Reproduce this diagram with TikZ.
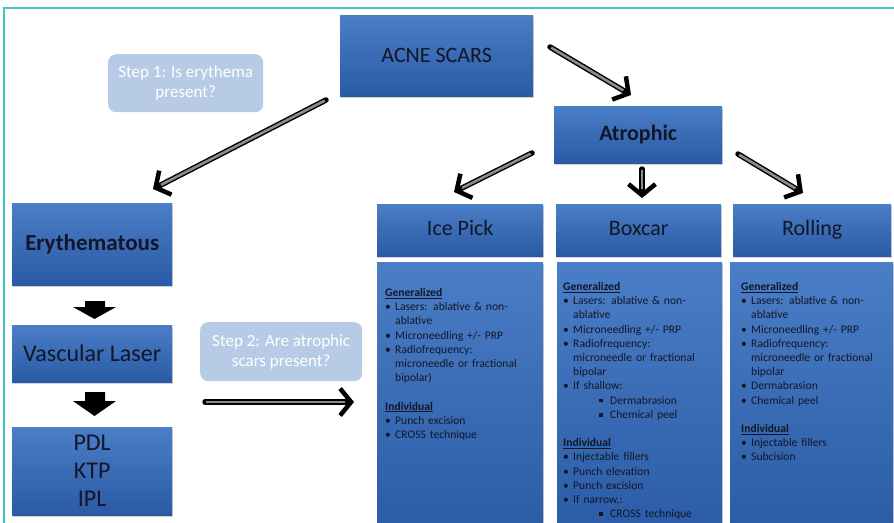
\documentclass[tikz,border=0pt]{standalone}
\usepackage{fontspec}
\setmainfont{Carlito}
\usetikzlibrary{arrows.meta,shadows}
\definecolor{boxtop}{RGB}{74,126,198}
\definecolor{boxbot}{RGB}{42,90,165}
\definecolor{bubble}{RGB}{184,203,230}
\definecolor{framec}{RGB}{70,196,200}
\definecolor{txt}{RGB}{18,22,40}
\definecolor{shaft}{RGB}{140,140,140}
\newcommand{\nl}{\hfil\break}
\newcommand{\bul}[1]{\par\noindent\hangindent=10pt\hangafter=1\makebox[10pt][l]{\textbullet}#1}
\newcommand{\sbul}[1]{\par\noindent\hspace*{36pt}\makebox[11pt][l]{\raisebox{1.6pt}{\rule{3.6pt}{3.6pt}}}#1}
\newcommand{\hdr}[1]{\par\noindent\textbf{\underline{#1}}}
\newcommand{\bigarr}[2]{\draw[arrowouter] (#1) -- (#2); \draw[arrowinner] (#1) -- (#2);}
\tikzset{
  x=1pt, y=-1pt,
  blbox/.style={draw=none, top color=boxtop, bottom color=boxbot, text=txt,
    inner sep=0pt, anchor=north west, align=center,
    drop shadow={shadow xshift=1.2pt, shadow yshift=-1.5pt, opacity=0.3, fill=black!60}},
  hdrbox/.style={blbox, minimum height=52pt, text height=15pt, text depth=5pt,
    font=\fontsize{22}{26}\selectfont},
  bubblebox/.style={fill=bubble, rounded corners=8pt, text=white, inner sep=0pt,
    anchor=north west, align=center, font=\fontsize{17}{20}\selectfont},
  contenttext/.style={anchor=north west, inner sep=0pt, text width=160pt, align=left,
    text=txt, font=\fontsize{11.6}{14.2}\selectfont},
  arrowouter/.style={line width=5.5pt, black, line cap=round,
    -{Straight Barb[length=11pt, width=27pt, line width=4.5pt]}},
  arrowinner/.style={line width=2.6pt, shaft, shorten >=9pt, shorten <=1.4pt},
  blockarrow/.style={fill=black, draw=none},
}
\begin{document}
\begin{tikzpicture}
\useasboundingbox (0,0) rectangle (894,522);
\clip (0,0) rectangle (894,522);
\fill[white] (0,0) rectangle (894,522);
% frame
\draw[framec, line width=1.6pt] (4,530) -- (4,8) -- (900,8);

% top
\node[blbox, minimum width=193pt, minimum height=81pt, font=\fontsize{22}{26}\selectfont] (acne) at (340,15) {ACNE SCARS};
\node[bubblebox, minimum width=155pt, minimum height=58pt] (step1) at (108,54) {Step 1: Is erythema\\present?};
\node[blbox, minimum width=168pt, minimum height=57pt, font=\bfseries\fontsize{22}{26}\selectfont] (atro) at (554,106) {Atrophic};

% left column
\node[blbox, minimum width=160pt, minimum height=82pt, font=\bfseries\fontsize{23}{27}\selectfont] (ery) at (12,203) {Erythematous};
\node[blbox, minimum width=160pt, minimum height=57pt, font=\fontsize{24}{28}\selectfont] (vasc) at (12,325) {Vascular Laser};
\node[blbox, minimum width=160pt, minimum height=88pt, font=\fontsize{24}{28}\selectfont] (pdl) at (12,427) {PDL\\KTP\\IPL};
\node[bubblebox, minimum width=162pt, minimum height=59pt] (step2) at (200,322) {Step 2: Are atrophic\\scars present?};

% block arrows
\fill[blockarrow] (85,301) -- (105,301) -- (105,307) -- (116,307) -- (94.5,319) -- (73,307) -- (85,307) -- cycle;
\fill[blockarrow] (85,392) -- (105,392) -- (105,401) -- (116,401) -- (94.5,416) -- (73,401) -- (85,401) -- cycle;

% headers
\node[hdrbox, minimum width=166pt] (icep) at (377,204) {Ice Pick};
\node[hdrbox, minimum width=165pt] (boxc) at (556,204) {Boxcar};
\node[hdrbox, minimum width=158pt] (roll) at (733,204) {Rolling};

% content boxes
\node[blbox, minimum width=166pt, minimum height=280pt] (icec) at (377,262) {};
\node[blbox, minimum width=165pt, minimum height=280pt] (boxcc) at (557,262) {};
\node[blbox, minimum width=163pt, minimum height=280pt] (rollc) at (730,262) {};

\node[contenttext] (icet) at (385,282) {%
\hdr{Generalized}
\bul{Lasers: ablative \& non-\nl ablative}
\bul{Microneedling +/- PRP}
\bul{Radiofrequency:\nl microneedle or fractional\nl bipolar)}
\par\vspace{14.2pt}
\hdr{Individual}
\bul{Punch excision}
\bul{CROSS technique}\par};

\node[contenttext] (boxt) at (563,276) {%
\hdr{Generalized}
\bul{Lasers: ablative \& non-\nl ablative}
\bul{Microneedling +/- PRP}
\bul{Radiofrequency:\nl microneedle or fractional\nl bipolar}
\bul{If shallow:}
\sbul{Dermabrasion}
\sbul{Chemical peel}
\par\vspace{14.2pt}
\hdr{Individual}
\bul{Injectable fillers}
\bul{Punch elevation}
\bul{Punch excision}
\bul{If narrow,:}
\sbul{CROSS technique}\par};

\node[contenttext] (rollt) at (741,276) {%
\hdr{Generalized}
\bul{Lasers: ablative \& non-\nl ablative}
\bul{Microneedling +/- PRP}
\bul{Radiofrequency:\nl microneedle or fractional\nl bipolar}
\bul{Dermabrasion}
\bul{Chemical peel}
\par\vspace{14.2pt}
\hdr{Individual}
\bul{Injectable fillers}
\bul{Subcision}\par};

% arrow endpoints
\coordinate (a1s) at (326,100); \coordinate (a1e) at (153,189);
\coordinate (a2s) at (550,47);  \coordinate (a2e) at (631,95);
\coordinate (a3s) at (532,153); \coordinate (a3e) at (454,192);
\coordinate (a4s) at (642,169); \coordinate (a4e) at (642,198);
\coordinate (a5s) at (738,154); \coordinate (a5e) at (803,193);
\coordinate (a6s) at (205,402); \coordinate (a6e) at (354,402);
\bigarr{a1s}{a1e}
\bigarr{a2s}{a2e}
\bigarr{a3s}{a3e}
\bigarr{a4s}{a4e}
\bigarr{a5s}{a5e}
\bigarr{a6s}{a6e}
\end{tikzpicture}
\end{document}
